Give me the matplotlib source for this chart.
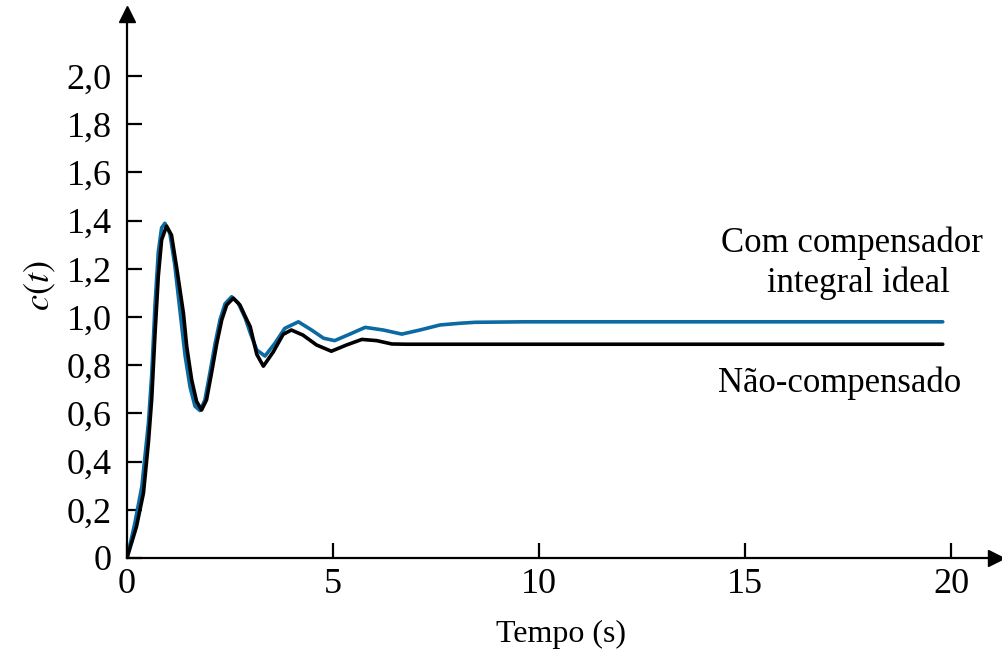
import matplotlib.pyplot as plt

plt.rcParams['font.family'] = ['Liberation Serif', 'DejaVu Serif']
plt.rcParams['mathtext.fontset'] = 'stix'

# Resposta ao degrau
t_nc = [0, 0.23, 0.40, 0.52, 0.60, 0.68, 0.76, 0.84, 0.96, 1.08, 1.21, 1.37, 1.45,
        1.57, 1.69, 1.81, 1.93, 2.05, 2.18, 2.30, 2.42, 2.58, 2.74, 2.91, 2.99,
        3.15, 3.31, 3.55, 3.79, 3.99, 4.27, 4.60, 4.96, 5.33, 5.70, 6.06, 6.43,
        6.8, 19.8]
c_nc = [0, 0.13, 0.27, 0.48, 0.66, 0.93, 1.17, 1.32, 1.377, 1.34, 1.20, 1.015, 0.877,
        0.739, 0.649, 0.614, 0.656, 0.766, 0.891, 0.988, 1.05, 1.078, 1.05, 0.988, 0.960,
        0.845, 0.796, 0.855, 0.928, 0.946, 0.925, 0.884, 0.858, 0.884, 0.907, 0.902, 0.888,
        0.887, 0.887]

t_pi = [0, 0.19, 0.36, 0.52, 0.60, 0.68, 0.76, 0.84, 0.92, 1.04, 1.16, 1.29, 1.41,
        1.53, 1.65, 1.77, 1.89, 2.01, 2.14, 2.26, 2.38, 2.54, 2.70, 2.87, 3.00,
        3.15, 3.35, 3.59, 3.83, 4.16, 4.48, 4.77, 5.04, 5.41, 5.78, 6.22, 6.67,
        7.11, 7.60, 8.08, 8.45, 9.62, 19.8]
c_pi = [0, 0.144, 0.296, 0.56, 0.76, 1.05, 1.27, 1.37, 1.389, 1.347, 1.216, 1.02, 0.84,
        0.71, 0.63, 0.612, 0.655, 0.766, 0.891, 0.99, 1.055, 1.084, 1.058, 0.995, 0.93,
        0.863, 0.838, 0.891, 0.953, 0.980, 0.946, 0.912, 0.902, 0.929, 0.957, 0.946, 0.929,
        0.946, 0.967, 0.974, 0.978, 0.980, 0.980]

xticks = [0, 5, 10, 15, 20]
yticks = [0, 0.2, 0.4, 0.6, 0.8, 1.0, 1.2, 1.4, 1.6, 1.8, 2.0]
ytick_labels = ['0', '0,2', '0,4', '0,6', '0,8', '1,0', '1,2', '1,4', '1,6', '1,8', '2,0']

fig = plt.figure(figsize=(10.03, 6.53), dpi=100)
W, H = 1003, 653
x0, y0 = 127, 558
x1, y1 = 996, 14
ax = fig.add_axes([x0 / W, 1 - y0 / H, (x1 - x0) / W, (y0 - y1) / H])

ax.plot(t_pi, c_pi, color='#0a6aa1', lw=2.6, solid_joinstyle='round', solid_capstyle='round')
ax.plot(t_nc, c_nc, color='black', lw=2.6, solid_joinstyle='round', solid_capstyle='round')

ax.set_xlim(0, 20 * (x1 - x0) / (951 - x0))
ax.set_ylim(0, (y0 - y1) / 241)

for s in ['top', 'right']:
    ax.spines[s].set_visible(False)
for s in ['left', 'bottom']:
    ax.spines[s].set_linewidth(1.6)

ax.plot(1, 0, '>', color='black', ms=11, transform=ax.transAxes, clip_on=False)
ax.plot(0, 1, '^', color='black', ms=11, transform=ax.transAxes, clip_on=False)

ax.set_xticks(xticks)
ax.set_xticklabels([str(v) for v in xticks])
ax.set_yticks(yticks)
ax.set_yticklabels(ytick_labels)
ax.tick_params(direction='in', length=11, width=1.6, labelsize=26)
ax.tick_params(axis='y', pad=11)
ax.tick_params(axis='x', pad=7)

ax.set_xlabel('Tempo (s)', fontsize=23, labelpad=14)
ax.set_ylabel('$c(t)$', fontsize=26, labelpad=6)


def px_text(x, y, s):
    fig.text(x / W, 1 - y / H, s, fontsize=25, ha='center', va='center')


px_text(852, 243, 'Com compensador')
px_text(858, 283, 'integral ideal')
px_text(840, 383, 'Não-compensado')

fig.savefig('out.png', dpi=100)
